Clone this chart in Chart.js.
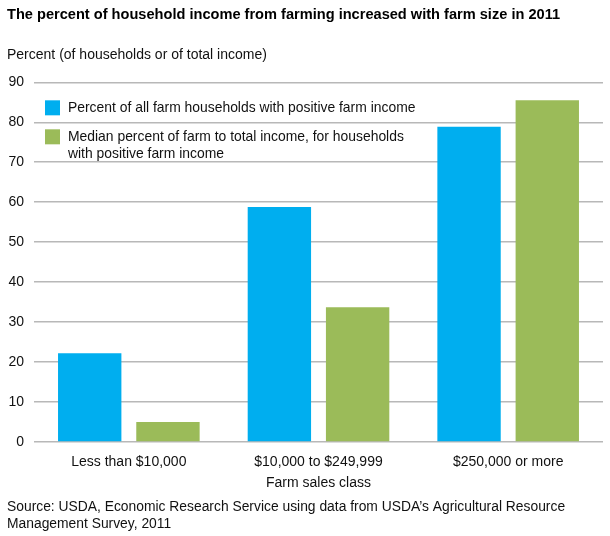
<!DOCTYPE html>
<html>
<head>
<meta charset="utf-8">
<script src="https://cdn.jsdelivr.net/npm/chart.js@4.4.0/dist/chart.umd.min.js"></script>
<style>
  html, body { margin: 0; padding: 0; background: #fff; }
  #wrap { position: relative; width: 610px; height: 536px; }
</style>
</head>
<body>
<div id="wrap"><canvas id="farmChart"></canvas></div>
<script>
// 数据
const categories = ['Less than $10,000', '$10,000 to $249,999', '$250,000 or more']
const householdsPositive = [22.2, 58.8, 78.9]
const medianFarmShare = [5.0, 33.7, 85.5]
const seriesLabels = [
  ['Percent of all farm households with positive farm income'],
  ['Median percent of farm to total income, for households', 'with positive farm income']
]
const yTicks = [0, 10, 20, 30, 40, 50, 60, 70, 80, 90]
const sourceLines = [
  'Source: USDA, Economic Research Service using data from USDA\u2019s Agricultural Resource',
  'Management Survey, 2011'
]

const FONT = '"Liberation Sans", Arial, Helvetica, sans-serif'
const BLUE = '#00aeef'
const GREEN = '#9bbb59'

Chart.defaults.font.family = FONT
Chart.defaults.color = '#111'

/**
 * 图内图例（左上角，支持多行）
 */
const insideLegend = {
  id: 'insideLegend',
  afterDatasetsDraw(chart) {
    const { ctx, chartArea } = chart
    const x0 = chartArea.left + 11
    let y = chartArea.top + 18
    ctx.save()
    ctx.font = '13.9px ' + FONT
    ctx.textBaseline = 'middle'
    chart.data.datasets.forEach((ds, i) => {
      const lines = seriesLabels[i]
      ctx.fillStyle = ds.backgroundColor
      ctx.fillRect(x0, y, 15, 15)
      ctx.fillStyle = '#111'
      lines.forEach((line, j) => {
        ctx.fillText(line, x0 + 23, y + 7.5 + j * 17)
      })
      y += 29 + (lines.length - 1) * 17
    })
    ctx.restore()
  }
}

/**
 * 底部资料来源
 */
const sourceNote = {
  id: 'sourceNote',
  afterDraw(chart) {
    const { ctx } = chart
    ctx.save()
    ctx.font = '13.85px ' + FONT
    ctx.fillStyle = '#111'
    ctx.textBaseline = 'middle'
    sourceLines.forEach((line, i) => {
      ctx.fillText(line, 7, chart.height - 29 + i * 17)
    })
    ctx.restore()
  }
}

new Chart(document.getElementById('farmChart'), {
  type: 'bar',
  data: {
    labels: categories,
    datasets: [
      {
        label: seriesLabels[0].join(' '),
        data: householdsPositive,
        backgroundColor: BLUE,
        categoryPercentage: 0.825,
        barPercentage: 0.81
      },
      {
        label: seriesLabels[1].join(' '),
        data: medianFarmShare,
        backgroundColor: GREEN,
        categoryPercentage: 0.825,
        barPercentage: 0.81
      }
    ]
  },
  options: {
    responsive: true,
    maintainAspectRatio: false,
    animation: false,
    layout: {
      padding: { left: 7, right: 7, top: 0, bottom: 44 }
    },
    plugins: {
      legend: { display: false },
      tooltip: { enabled: false },
      title: {
        display: true,
        text: 'The percent of household income from farming increased with farm size in 2011',
        align: 'start',
        color: '#000',
        font: { size: 14.6, weight: 'bold' },
        padding: { top: 6, bottom: 13 }
      },
      subtitle: {
        display: true,
        text: 'Percent (of households or of total income)',
        align: 'start',
        color: '#111',
        font: { size: 14 },
        padding: { top: 10, bottom: 19 }
      }
    },
    scales: {
      x: {
        grid: { display: false, drawTicks: false },
        border: { display: false },
        ticks: { padding: 12, font: { size: 14 }, color: '#111' },
        title: {
          display: true,
          text: 'Farm sales class',
          font: { size: 14 },
          color: '#111',
          padding: { top: 4, bottom: 0 }
        },
        afterFit(axis) {
          axis.height = 50
        }
      },
      y: {
        min: 0,
        max: 90,
        afterBuildTicks(axis) {
          axis.ticks = yTicks.map(v => ({ value: v }))
        },
        afterFit(axis) {
          axis.width = 27
        },
        grid: { color: '#b8b8b8', lineWidth: 1.5, drawTicks: false },
        border: { display: false },
        ticks: { padding: 10, font: { size: 14 }, color: '#111' }
      }
    }
  },
  plugins: [insideLegend, sourceNote]
})
</script>
</body>
</html>
